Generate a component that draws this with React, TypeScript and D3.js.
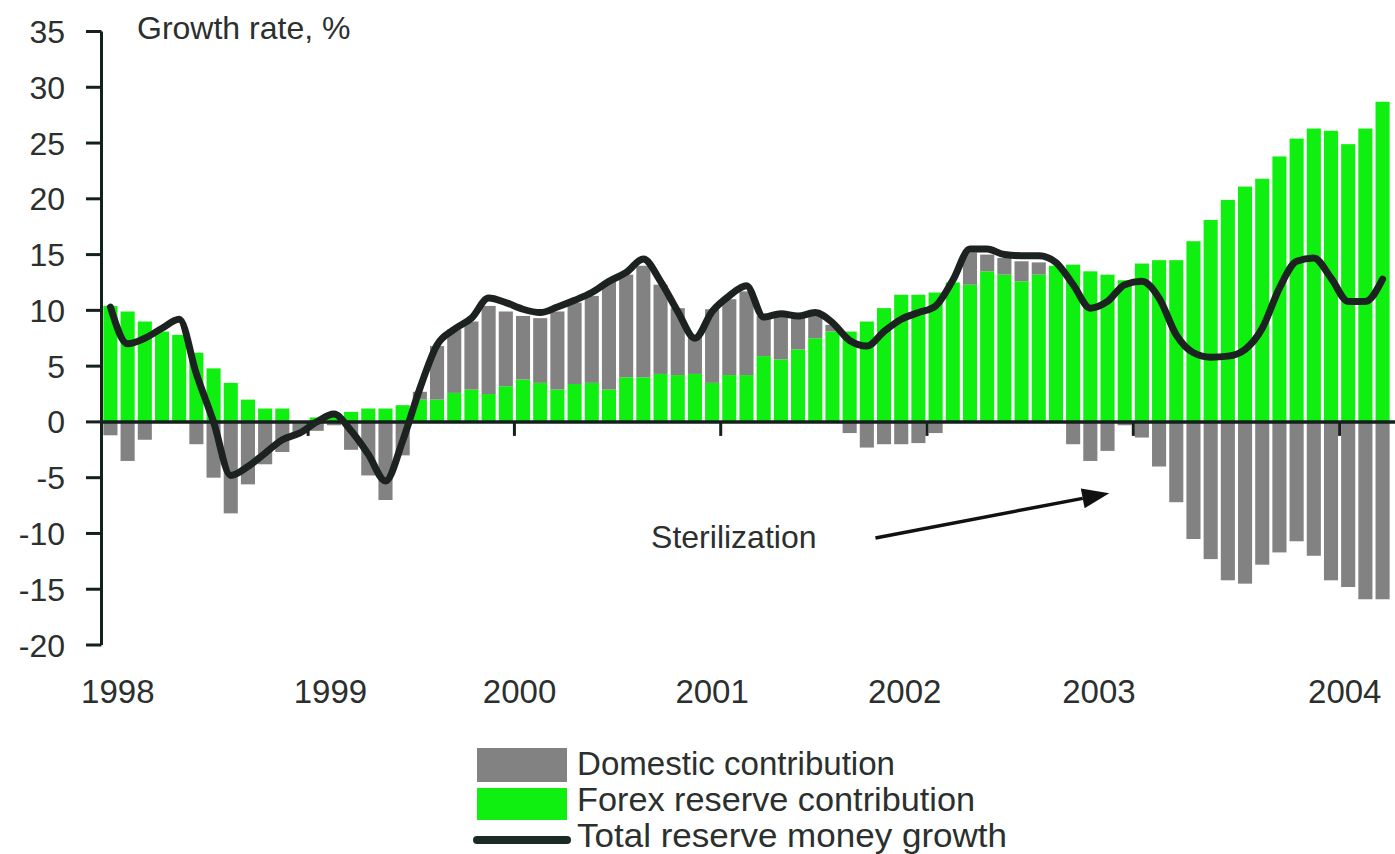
import React from 'react';
import * as d3 from 'd3';

// Monthly observations, Jan 1998 – Mar 2004
const months: Date[] = d3.timeMonth.range(new Date(1998, 0, 1), new Date(2004, 3, 1));

// Forex reserve contribution (green), percentage points
const forex: number[] = [
  10.4, 9.9, 9.0, 8.1, 7.8, 6.2, 4.8, 3.5, 2.0, 1.2, 1.2, 0.0,
  0.4, 0.6, 0.9, 1.2, 1.2, 1.5, 2.0, 2.0, 2.6, 2.9, 2.5, 3.2,
  3.8, 3.5, 2.9, 3.4, 3.5, 2.9, 4.0, 4.0, 4.3, 4.2, 4.3, 3.5,
  4.2, 4.2, 5.9, 5.6, 6.5, 7.5, 8.1, 8.1, 9.0, 10.2, 11.4, 11.4,
  11.6, 12.5, 12.3, 13.5, 13.2, 12.6, 13.2, 14.0, 14.1, 13.5, 13.2, 12.7,
  14.2, 14.5, 14.5, 16.2, 18.1, 19.9, 21.1, 21.8, 23.8, 25.4, 26.3, 26.1,
  24.9, 26.3, 28.7,
];

// Domestic contribution (grey), percentage points
const domestic: number[] = [
  -1.2, -3.5, -1.6, 0.0, 0.0, -2.0, -5.0, -8.2, -5.6, -3.8, -2.7, -1.0,
  -0.8, -0.3, -2.5, -4.8, -7.0, -3.0, 0.7, 4.8, 5.7, 6.1, 7.9, 6.7,
  5.7, 5.8, 7.0, 7.3, 7.8, 9.7, 9.2, 10.0, 8.0, 6.0, 3.5, 6.6,
  6.8, 7.5, 3.6, 4.2, 3.0, 2.1, 0.6, -1.0, -2.3, -2.0, -2.0, -1.9,
  -1.0, 0.0, 2.9, 1.5, 1.5, 1.8, 1.1, 0.0, -2.0, -3.5, -2.6, -0.3,
  -1.4, -4.0, -7.2, -10.5, -12.3, -14.2, -14.5, -12.8, -11.7, -10.7, -12.0, -14.2,
  -14.8, -15.9, -15.9,
];

// Total reserve money growth (line), %
const total: number[] = [
  10.3, 7.0, 7.5, 8.4, 9.2, 4.3, 0.0, -4.8, -4.0, -2.8, -1.6, -1.0,
  0.0, 0.7, -0.8, -2.9, -5.3, -1.7, 3.0, 6.9, 8.3, 9.3, 11.1, 10.7,
  10.1, 9.8, 10.3, 10.9, 11.6, 12.6, 13.4, 14.6, 12.6, 9.9, 7.5, 9.9,
  11.3, 12.2, 9.4, 9.7, 9.5, 9.8, 8.9, 7.3, 6.8, 8.1, 9.2, 9.8,
  10.4, 12.7, 15.5, 15.5, 15.0, 14.9, 14.9, 14.3, 12.3, 10.2, 10.8, 12.3,
  12.6, 11.1, 7.8, 6.2, 5.8, 5.9, 6.5, 8.4, 12.0, 14.4, 14.7, 12.9,
  10.8, 10.8, 12.8,
];

const yTicks: number[] = [35, 30, 25, 20, 15, 10, 5, 0, -5, -10, -15, -20];
const yearLabels: string[] = ['1998', '1999', '2000', '2001', '2002', '2003', '2004'];
// label anchor positions, in months from Jan 1998
const yearLabelMonths: number[] = [0.93, 13.3, 24.3, 35.5, 46.7, 58.0, 72.3];
const yearTickMonths: number[] = [12, 24, 36, 48, 60, 72];

// annotation, in data units (month index, value)
const arrowFrom: [number, number] = [45.0, -10.4];
const arrowTo: [number, number] = [58.6, -6.4];
const sterilizationAt: [number, number] = [31.95, -11.3];

const legendItems: string[] = ['Domestic contribution', 'Forex reserve contribution', 'Total reserve money growth'];

const GREEN = '#10f010';
const GREY = '#828282';
const INK = '#14201d';
const TEXT = '#2b302e';
const FONT = '"Liberation Sans", Arial, sans-serif';

export default function App() {
  const W = 1395;
  const H = 854;
  const idx = months.map((_, i) => i);

  const x = d3.scaleBand<number>().domain(idx).range([102, 1391]).paddingInner(0.18).paddingOuter(0.08);
  const step = x.step();
  const gap = step * 0.18;
  const xm = d3
    .scaleLinear()
    .domain([0, months.length])
    .range([(x(0) as number) - gap / 2, (x(months.length - 1) as number) + x.bandwidth() + gap / 2]);
  const y = d3.scaleLinear().domain([-20, 35]).range([645, 31.5]);

  const line = d3
    .line<number>()
    .x((_, i) => (x(i) as number) + x.bandwidth() / 2)
    .y((d) => y(d))
    .curve(d3.curveMonotoneX);

  const axisX = 101.5;
  const zeroY = y(0);

  const [ax0, ay0] = [xm(arrowFrom[0]), y(arrowFrom[1])];
  const [ax1, ay1] = [xm(arrowTo[0]), y(arrowTo[1])];
  const ang = Math.atan2(ay1 - ay0, ax1 - ax0);
  const headL = 27;
  const headW = 10;
  const bx = ax1 - headL * Math.cos(ang);
  const by = ay1 - headL * Math.sin(ang);
  const px = -Math.sin(ang) * headW;
  const py = Math.cos(ang) * headW;

  const legendWidths = [318, 398, 430];

  return (
    <svg
      width={W}
      height={H}
      style={{ position: 'absolute', left: 0, top: 0, background: '#fff' }}
      fontFamily={FONT}
    >
      <rect x={0} y={0} width={W} height={H} fill="#fff" />

      {/* bars */}
      <g>
        {idx.map((i) => {
          const bx0 = x(i) as number;
          const bw = x.bandwidth();
          const f = forex[i];
          const d = domestic[i];
          const gTop = y(Math.max(f, 0));
          const gBot = y(Math.min(f, 0));
          let dTop: number;
          let dBot: number;
          if (d >= 0) {
            dTop = y(Math.max(f, 0) + d);
            dBot = y(Math.max(f, 0));
          } else {
            dTop = y(Math.min(f, 0));
            dBot = y(Math.min(f, 0) + d);
          }
          return (
            <g key={i}>
              {Math.abs(f) > 0 && <rect x={bx0} y={gTop} width={bw} height={gBot - gTop} fill={GREEN} />}
              {Math.abs(d) > 0 && <rect x={bx0} y={dTop} width={bw} height={dBot - dTop} fill={GREY} />}
            </g>
          );
        })}
      </g>

      {/* zero line */}
      <line x1={axisX} x2={W} y1={zeroY} y2={zeroY} stroke={INK} strokeWidth={3.5} />
      {yearTickMonths.map((m) => (
        <line key={m} x1={xm(m)} x2={xm(m)} y1={zeroY} y2={zeroY + 14} stroke={INK} strokeWidth={3} />
      ))}

      {/* y axis */}
      <line x1={axisX} x2={axisX} y1={y(35)} y2={y(-20)} stroke={INK} strokeWidth={3} />
      {yTicks.map((t) => (
        <g key={t}>
          <line x1={86} x2={axisX} y1={y(t)} y2={y(t)} stroke={INK} strokeWidth={3} />
          <text x={65} y={y(t)} dy="0.36em" textAnchor="end" fontSize={32} fill={TEXT}>
            {t}
          </text>
        </g>
      ))}

      {/* total line */}
      <path d={line(total) || ''} fill="none" stroke="#1c2220" strokeWidth={7} strokeLinejoin="round" strokeLinecap="round" />

      {/* title */}
      <text x={137} y={39} fontSize={32} fill={TEXT}>
        Growth rate, %
      </text>

      {/* x labels */}
      {yearLabels.map((lab, k) => (
        <text key={lab} x={xm(yearLabelMonths[k])} y={703} textAnchor="middle" fontSize={33} fill={TEXT}>
          {lab}
        </text>
      ))}

      {/* annotation */}
      <text x={xm(sterilizationAt[0])} y={y(sterilizationAt[1])} fontSize={32} fill={TEXT}>
        Sterilization
      </text>
      <line x1={ax0} y1={ay0} x2={bx} y2={by} stroke="#111" strokeWidth={3.5} />
      <path d={`M${ax1},${ay1} L${bx + px},${by + py} L${bx - px},${by - py} Z`} fill="#111" />

      {/* legend */}
      <g>
        <rect x={477} y={748} width={90} height={34} fill={GREY} />
        <rect x={477} y={788} width={90} height={32} fill={GREEN} />
        <line x1={477} x2={567} y1={840} y2={840} stroke="#1c2a26" strokeWidth={8} strokeLinecap="round" />
        {legendItems.map((lab, k) => (
          <text
            key={lab}
            x={577}
            y={775 + k * 36}
            fontSize={34}
            fill={TEXT}
            textLength={legendWidths[k]}
            lengthAdjust="spacingAndGlyphs"
          >
            {lab}
          </text>
        ))}
      </g>
    </svg>
  );
}
